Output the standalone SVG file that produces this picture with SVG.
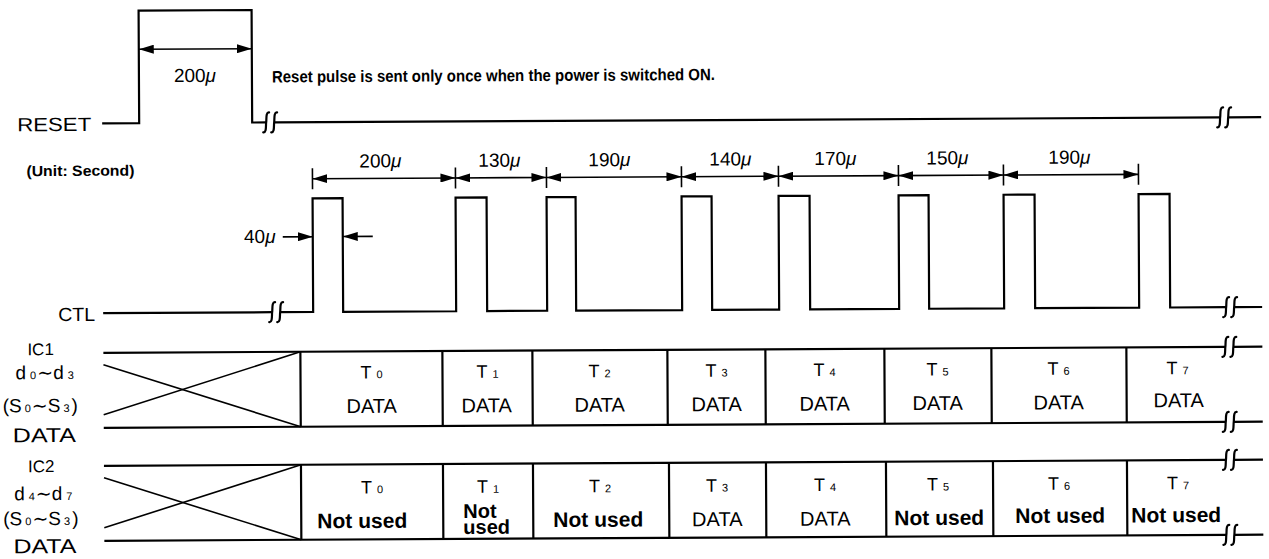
<svg xmlns="http://www.w3.org/2000/svg" width="1269" height="559" viewBox="0 0 1269 559">
<style>
.ln{fill:none;stroke:#000;stroke-width:2.2;stroke-linejoin:miter}
.thin{fill:none;stroke:#000;stroke-width:1.6}
.dim{fill:none;stroke:#000;stroke-width:1.6;marker-start:url(#ah);marker-end:url(#ah)}
.one{fill:none;stroke:#000;stroke-width:1.6;marker-end:url(#ah)}
.brk path{fill:none;stroke:#000;stroke-width:2.2;stroke-linecap:round}
text{font-family:"Liberation Sans",Arial,"DejaVu Sans",sans-serif;fill:#000}
.lab{font-size:19px}
.val{font-size:19px;text-anchor:middle}
.cell{font-size:20px;text-anchor:middle}
.tn{font-size:18px;text-anchor:middle}
.sub{font-size:11px}
.nu{font-size:21px;font-weight:bold;text-anchor:middle}
.mu{font-style:italic}
</style>
<defs>
<marker id="ah" viewBox="0 0 15 9" refX="15" refY="4.5" markerWidth="15" markerHeight="9" markerUnits="userSpaceOnUse" orient="auto-start-reverse"><path d="M0,0 L15,4.5 L0,9 z" fill="#000"/></marker>
<g id="brk" class="brk"><path d="M3,-10 C-0.5,-10.5 0.5,-3 0,0 C-0.5,3 0.5,10.5 -3,10"/><path d="M11,-10 C7.5,-10.5 8.5,-3 8,0 C7.5,3 8.5,10.5 5,10"/></g>
</defs>
<rect width="1269" height="559" fill="#fff"/>
<g transform="rotate(-0.3 634 280)">
<g id="labels">
<text class="lab" x="18" y="128" textLength="74" lengthAdjust="spacingAndGlyphs">RESET</text>
<text x="27" y="173" style="font-size:15px;font-weight:bold" textLength="108" lengthAdjust="spacingAndGlyphs">(Unit: Second)</text>
<text class="lab" x="58" y="318" textLength="37" lengthAdjust="spacingAndGlyphs">CTL</text>
<text x="27" y="352" style="font-size:17px">IC1</text>
<text x="15" y="376" style="font-size:19px">d<tspan class="sub" dx="4">0</tspan><tspan dx="1">∼</tspan>d<tspan class="sub" dx="4">3</tspan></text>
<text x="2" y="409" style="font-size:19px">(S<tspan class="sub" dx="3">0</tspan><tspan dx="1">∼</tspan>S<tspan class="sub" dx="3">3</tspan><tspan dx="2">)</tspan></text>
<text x="12" y="439" style="font-size:20px" textLength="63" lengthAdjust="spacingAndGlyphs">DATA</text>
<text x="27" y="469" style="font-size:17px">IC2</text>
<text x="13" y="497" style="font-size:19px">d<tspan class="sub" dx="4">4</tspan><tspan dx="1">∼</tspan>d<tspan class="sub" dx="4">7</tspan></text>
<text x="2" y="522" style="font-size:19px">(S<tspan class="sub" dx="3">0</tspan><tspan dx="1">∼</tspan>S<tspan class="sub" dx="3">3</tspan><tspan dx="2">)</tspan></text>
<text x="12" y="550" style="font-size:20px" textLength="63" lengthAdjust="spacingAndGlyphs">DATA</text>
</g>
<g id="reset-signal">
<polyline class="ln" points="103,120.5 140,120.5 140,8 253,8 253,120.5 267,120.5"/>
<use href="#brk" x="267" y="120.5"/>
<line class="ln" x1="275" y1="120.5" x2="1221" y2="120.5"/>
<use href="#brk" x="1221" y="120.5"/>
<line class="ln" x1="1229" y1="120.5" x2="1262" y2="120.5"/>
<text x="273" y="80.5" style="font-size:16.5px;font-weight:bold" textLength="443" lengthAdjust="spacingAndGlyphs">Reset pulse is sent only once when the power is switched ON.</text>
</g>
<g id="ctl-signal">
<line class="ln" x1="103" y1="310.3" x2="272" y2="310.3"/>
<use href="#brk" x="272" y="310.3"/>
<polyline class="ln" points="280,310.3 313,310.3 313,196.7 343,196.7 343,310.3 456,310.3 456,196.7 487,196.7 487,310.3 547,310.3 547,196.7 576,196.7 576,310.3 682,310.3 682,196.7 712,196.7 712,310.3 779,310.3 779,196.7 810,196.7 810,310.3 899,310.3 899,196.7 929,196.7 929,310.3 1004,310.3 1004,196.7 1035,196.7 1035,310.3 1139,310.3 1139,196.7 1170,196.7 1170,310.3 1226,310.3"/>
<use href="#brk" x="1226" y="310.3"/>
<line class="ln" x1="1234" y1="310.3" x2="1262" y2="310.3"/>
</g>
<g id="ic1-row">
<line class="ln" x1="103" y1="350" x2="1225" y2="350"/>
<line class="ln" x1="103" y1="425" x2="1225" y2="425"/>
<use href="#brk" x="1225" y="350"/>
<use href="#brk" x="1225" y="425"/>
<line class="ln" x1="1233" y1="350" x2="1262" y2="350"/>
<line class="ln" x1="1233" y1="425" x2="1262" y2="425"/>
<line class="thin" x1="103" y1="362" x2="300" y2="425"/>
<line class="thin" x1="103" y1="412" x2="300" y2="350"/>
<path class="ln" d="M300,350V425M442,350V425M532,350V425M667,350V425M765,350V425M884,350V425M991,350V425M1126,350V425"/>
<text class="tn" x="371" y="377">T<tspan class="sub" dx="5">0</tspan></text>
<text class="tn" x="487" y="377">T<tspan class="sub" dx="5">1</tspan></text>
<text class="tn" x="599" y="377">T<tspan class="sub" dx="5">2</tspan></text>
<text class="tn" x="716" y="377">T<tspan class="sub" dx="5">3</tspan></text>
<text class="tn" x="824" y="377">T<tspan class="sub" dx="5">4</tspan></text>
<text class="tn" x="937" y="377">T<tspan class="sub" dx="5">5</tspan></text>
<text class="tn" x="1058" y="377">T<tspan class="sub" dx="5">6</tspan></text>
<text class="tn" x="1177" y="377">T<tspan class="sub" dx="5">7</tspan></text>
<text class="cell" x="371" y="411.5">DATA</text>
<text class="cell" x="486" y="411.5">DATA</text>
<text class="cell" x="599" y="411.5">DATA</text>
<text class="cell" x="716" y="411.5">DATA</text>
<text class="cell" x="824" y="411.5">DATA</text>
<text class="cell" x="937" y="411.5">DATA</text>
<text class="cell" x="1058" y="411.5">DATA</text>
<text class="cell" x="1178" y="410">DATA</text>
</g>
<g id="ic2-row">
<line class="ln" x1="103" y1="463" x2="1225" y2="463"/>
<line class="ln" x1="103" y1="538" x2="1225" y2="538"/>
<use href="#brk" x="1225" y="463"/>
<use href="#brk" x="1225" y="538"/>
<line class="ln" x1="1233" y1="463" x2="1262" y2="463"/>
<line class="ln" x1="1233" y1="538" x2="1262" y2="538"/>
<line class="thin" x1="103" y1="475" x2="300" y2="538"/>
<line class="thin" x1="103" y1="525" x2="300" y2="463"/>
<path class="ln" d="M300,463V538M442,463V538M532,463V538M668,463V538M765,463V538M885,463V538M992,463V538M1126,463V538"/>
<text class="tn" x="371" y="492">T<tspan class="sub" dx="5">0</tspan></text>
<text class="tn" x="487" y="492">T<tspan class="sub" dx="5">1</tspan></text>
<text class="tn" x="599" y="492">T<tspan class="sub" dx="5">2</tspan></text>
<text class="tn" x="716" y="492">T<tspan class="sub" dx="5">3</tspan></text>
<text class="tn" x="824" y="492">T<tspan class="sub" dx="5">4</tspan></text>
<text class="tn" x="937" y="492">T<tspan class="sub" dx="5">5</tspan></text>
<text class="tn" x="1058" y="492">T<tspan class="sub" dx="5">6</tspan></text>
<text class="tn" x="1177" y="492">T<tspan class="sub" dx="5">7</tspan></text>
<text class="nu" x="361" y="526.5">Not used</text>
<text style="font-size:20px;font-weight:bold"><tspan x="462" y="517">Not</tspan><tspan x="462" y="533">used</tspan></text>
<text class="nu" x="597" y="526.5">Not used</text>
<text class="cell" x="716" y="526.5">DATA</text>
<text class="cell" x="824" y="526.5">DATA</text>
<text class="nu" x="938" y="526.5">Not used</text>
<text class="nu" x="1059" y="525">Not used</text>
<text class="nu" x="1175" y="525">Not used</text>
</g>
<g id="connectors">
<line class="dim" x1="140" y1="46.7" x2="253" y2="46.7"/>
<text class="val" x="196" y="79.7">200<tspan class="mu">μ</tspan></text>
<path class="thin" d="M313,166.5V187.5M456,166.5V187.5M547,166.5V187.5M682,166.5V187.5M779,166.5V187.5M899,166.5V187.5M1004,166.5V187.5M1139,166.5V187.5"/>
<line class="dim" x1="313" y1="177" x2="456" y2="177"/>
<line class="dim" x1="456" y1="177" x2="547" y2="177"/>
<line class="dim" x1="547" y1="177" x2="682" y2="177"/>
<line class="dim" x1="682" y1="177" x2="779" y2="177"/>
<line class="dim" x1="779" y1="177" x2="899" y2="177"/>
<line class="dim" x1="899" y1="177" x2="1004" y2="177"/>
<line class="dim" x1="1004" y1="177" x2="1139" y2="177"/>
<text class="val" x="381" y="166">200<tspan class="mu">μ</tspan></text>
<text class="val" x="500" y="166">130<tspan class="mu">μ</tspan></text>
<text class="val" x="610" y="166">190<tspan class="mu">μ</tspan></text>
<text class="val" x="731" y="166">140<tspan class="mu">μ</tspan></text>
<text class="val" x="836" y="166">170<tspan class="mu">μ</tspan></text>
<text class="val" x="948" y="166">150<tspan class="mu">μ</tspan></text>
<text class="val" x="1070" y="166">190<tspan class="mu">μ</tspan></text>
<line class="one" x1="283" y1="235" x2="313" y2="235"/>
<line class="one" x1="373" y1="235" x2="343" y2="235"/>
<text class="val" x="260" y="241">40<tspan class="mu">μ</tspan></text>
</g>
</g>
</svg>
